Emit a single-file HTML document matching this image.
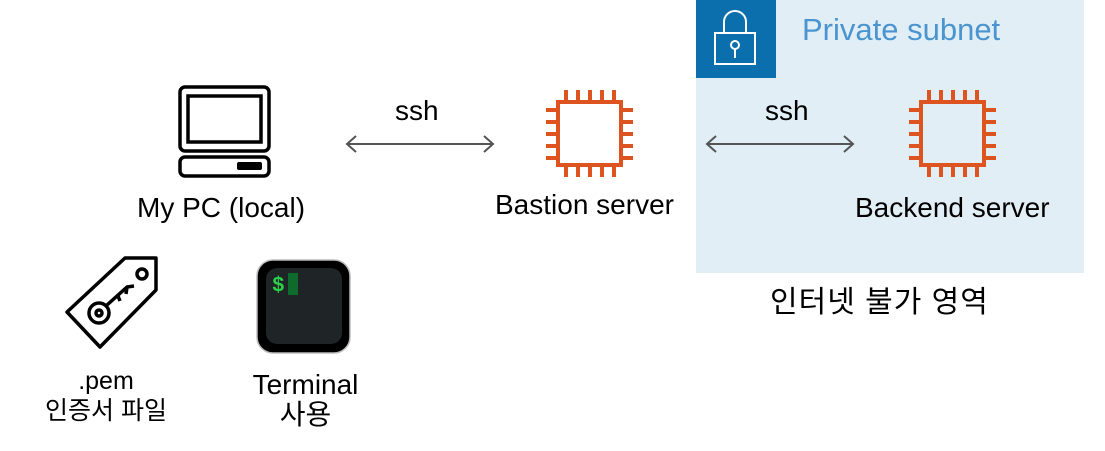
<!DOCTYPE html>
<html><head><meta charset="utf-8"><style>
body{margin:0;width:1105px;height:451px;background:#fff;position:relative;overflow:hidden;font-family:"Liberation Sans","Noto Sans CJK KR",sans-serif;}
.t{position:absolute;font-size:28px;color:#000;white-space:nowrap;text-align:center;line-height:30px}
</style></head><body>
<div style="position:absolute;left:696px;top:0;width:388px;height:273px;background:#e1eef6"></div>
<div style="position:absolute;left:696px;top:0;width:80px;height:78px;background:#0a6fac"></div>
<div class="t" style="left:802px;top:14px;color:#4a94cf;font-size:31px;line-height:32px">Private subnet</div>
<svg width="1105" height="451" style="position:absolute;left:0;top:0">
<defs>
<g id="chip" fill="none" stroke="#dd5420" stroke-width="4">
<rect x="0" y="0" width="63" height="63"/>
<path d="M8,-12V0M20,-12V0M32,-12V0M44,-12V0M56,-12V0M8,63V75M20,63V75M32,63V75M44,63V75M56,63V75M-12,8H0M-12,20H0M-12,32H0M-12,44H0M-12,56H0M63,8H75M63,20H75M63,32H75M63,44H75M63,56H75"/>
</g>
</defs>
<use href="#chip" x="558" y="102"/>
<use href="#chip" x="921" y="102"/>
<g fill="none" stroke="#fff" stroke-width="2">
<rect x="715" y="33" width="40" height="31"/>
<path d="M724,33V22a11,11 0 0 1 22,0V33"/>
<circle cx="735" cy="45" r="4"/><path d="M735,49V58"/>
</g>
<g stroke="#555" stroke-width="2" fill="none">
<path d="M347,144H493M356,136L347,144L356,152M484,136L493,144L484,152"/>
<path d="M707,144H853M716,136L707,144L716,152M844,136L853,144L844,152"/>
</g>
<g fill="none" stroke="#000" stroke-width="3.5">
<rect x="180" y="87" width="89" height="64" rx="5"/>
<rect x="188" y="96" width="73" height="46"/>
<rect x="180" y="157" width="89" height="19" rx="5"/>
</g>
<rect x="237" y="162" width="25" height="8" rx="2" fill="#000"/>
<g fill="none" stroke="#000" stroke-width="3.5" stroke-linejoin="round">
<path d="M67,312L125,258H156V290L100,347Z"/>
<circle cx="142" cy="274" r="5"/>
<circle cx="99" cy="313" r="10"/><circle cx="99" cy="313" r="3"/>
<path d="M107,305L127,287L134,286M127,287L126,294M118,296L120,301"/>
</g>
<rect x="257" y="260" width="93" height="93" rx="16" fill="#000" stroke="#bbb" stroke-width="1.5"/>
<rect x="266" y="268" width="76" height="76" rx="11" fill="#1f2427"/>
<text x="272" y="291" font-family="Liberation Mono,monospace" font-size="21" font-weight="bold" fill="#2bd04a">$</text>
<rect x="288" y="273" width="10" height="22" fill="#0f6b2c"/>
</svg>
<div class="t" style="left:395px;top:96px">ssh</div>
<div class="t" style="left:765px;top:96px">ssh</div>
<div class="t" style="left:137px;top:193px">My PC (local)</div>
<div class="t" style="left:495px;top:190px">Bastion server</div>
<div class="t" style="left:855px;top:193px">Backend server</div>
<div class="t" style="left:770px;top:288px;font-size:30px;letter-spacing:1px">인터넷 불가 영역</div>
<div class="t" style="left:36px;top:366px;width:140px;font-size:25px">.pem<br>인증서 파일</div>
<div class="t" style="left:238px;top:370px;width:135px;font-size:28px">Terminal<br>사용</div>
</body></html>
